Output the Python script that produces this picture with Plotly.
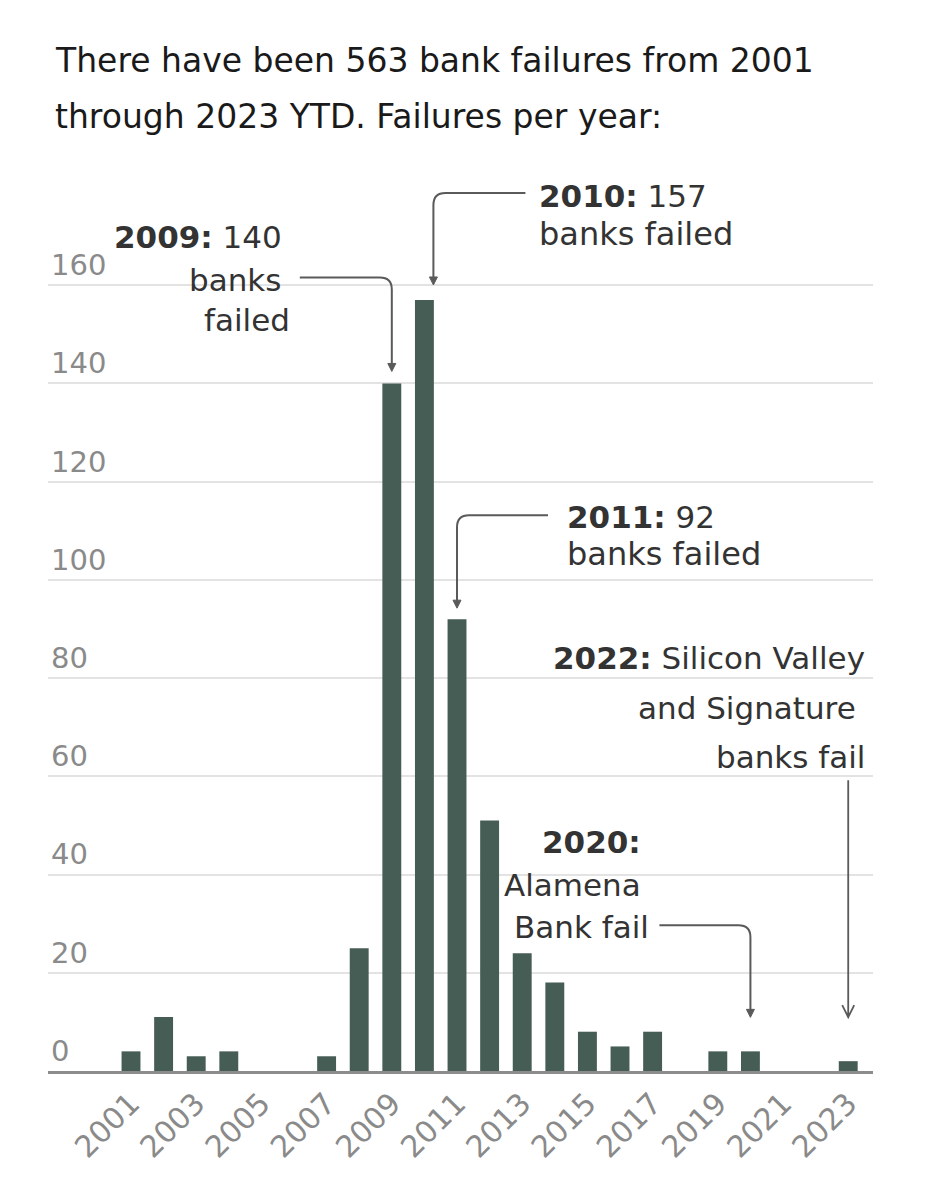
import plotly.graph_objects as go

# bank failures per year, 2001 - 2023 YTD
years = list(range(2001, 2024))
failures = [4, 11, 3, 4, 0, 0, 3, 25, 140, 157, 92, 51, 24, 18, 8, 5, 8, 0, 4, 4, 0, 0, 2]
tick_years = list(range(2001, 2024, 2))
y_ticks = list(range(0, 161, 20))

# page pixels of the plot area; the browser adds an 8px body margin
PAGE_W, PAGE_H, BODY = 938, 1200, 8
LEFT, RIGHT, TOP, BOTTOM = 48, 873, 187, 1071
X_RANGE = [1998.454, 2023.76]
Y_RANGE = [0, 180]

FONT = 'DejaVu Sans'
BAR = '#465d55'
INK = '#333333'
GREY = '#8a8a8a'
LINE = '#5a5a5a'


def px_x(px):
    return X_RANGE[0] + (px - LEFT) / (RIGHT - LEFT) * (X_RANGE[1] - X_RANGE[0])


def px_y(py):
    return Y_RANGE[0] + (BOTTOM - py) / (BOTTOM - TOP) * (Y_RANGE[1] - Y_RANGE[0])


fig = go.Figure(go.Bar(
    x=years, y=failures, width=0.58,
    marker=dict(color=BAR, line=dict(width=0)),
    hovertemplate='%{x}: %{y}<extra></extra>',
))


def label(text, px, py, anchor, size=31, color=INK):
    fig.add_annotation(
        text=text, x=px_x(px), y=px_y(py), xref='x', yref='y',
        xanchor=anchor, yanchor='middle', showarrow=False,
        font=dict(family=FONT, size=size, color=color),
    )


def title_line(text, px, py):
    fig.add_annotation(
        text=text, x=(px - LEFT) / (RIGHT - LEFT), y=(BOTTOM - py) / (BOTTOM - TOP),
        xref='paper', yref='paper', xanchor='left', yanchor='middle', showarrow=False,
        font=dict(family=FONT, size=33, color='#1a1a1a'),
    )


def elbow(year, value, dx, tip_up, corner_up, end_dx, r=12):
    # connector drawn in pixels relative to the top of the bar
    s = 1 if end_dx > dx else -1
    path = (f'M {dx},{tip_up + 6} L {dx},{corner_up - r} '
            f'Q {dx},{corner_up} {dx + s * r},{corner_up} L {end_dx},{corner_up}')
    head = f'M {dx - 4},{tip_up + 8} L {dx},{tip_up} L {dx + 4},{tip_up + 8} Z'
    common = dict(type='path', xref='x', yref='y', xsizemode='pixel', ysizemode='pixel',
                  xanchor=year, yanchor=value)
    fig.add_shape(path=path, line=dict(color=LINE, width=2), **common)
    fig.add_shape(path=head, fillcolor=LINE, line=dict(color=LINE, width=1), **common)


val = dict(zip(years, failures))

elbow(2009, val[2009], 0, 12, 106, -92)
elbow(2010, val[2010], 9, 15, 107, 101)
elbow(2011, val[2011], 0, 11, 104, 91)
elbow(2020, val[2020], 0, 34, 126, -91)

# straight arrow for 2022 / 2023 YTD
fig.add_shape(type='path', xref='x', yref='y', xsizemode='pixel', ysizemode='pixel',
              xanchor=2023, yanchor=val[2023],
              path='M 0,44 L 0,281 M -6,56 L 0,44 L 6,56',
              line=dict(color=LINE, width=1.8))

label('<b>2009:</b> 140', 284, 237, 'right')
label('banks', 283, 280, 'right')
label('failed', 292, 320, 'right')

label('<b>2010:</b> 157', 537, 196, 'left')
label('banks failed', 537, 234, 'left', size=32)

label('<b>2011:</b> 92', 565, 517, 'left')
label('banks failed', 565, 554, 'left', size=32)

label('<b>2022:</b> Silicon Valley', 867, 658, 'right')
label('and Signature', 858, 708, 'right')
label('banks fail', 867, 757, 'right')

label('<b>2020:</b>', 643, 842, 'right')
label('Alamena', 643, 885, 'right')
label('Bank fail', 651, 927, 'right')

title_line('There have been 563 bank failures from 2001', 53, 60)
title_line('through 2023 YTD. Failures per year:', 53, 116)

fig.update_traces(cliponaxis=False)
fig.update_layout(
    width=PAGE_W - BODY, height=PAGE_H - BODY,
    margin=dict(l=LEFT - BODY, r=PAGE_W - RIGHT, t=TOP - BODY, b=PAGE_H - BOTTOM, pad=0),
    paper_bgcolor='white', plot_bgcolor='white',
    showlegend=False,
    bargap=0.42,
)
fig.update_xaxes(
    range=X_RANGE, tickvals=tick_years, ticktext=[str(y) for y in tick_years],
    tickangle=-45, tickfont=dict(family=FONT, size=30, color=GREY),
    showgrid=False, zeroline=False, showline=True, linecolor='#8c8c8c', linewidth=3,
    ticks='',
)
fig.update_yaxes(
    range=Y_RANGE, tickvals=y_ticks, ticklabelposition='inside top',
    tickfont=dict(family=FONT, size=29, color=GREY),
    showgrid=True, gridcolor='#e3e3e3', gridwidth=1.5, zeroline=False, ticks='',
)

fig.write_html('out.html')
